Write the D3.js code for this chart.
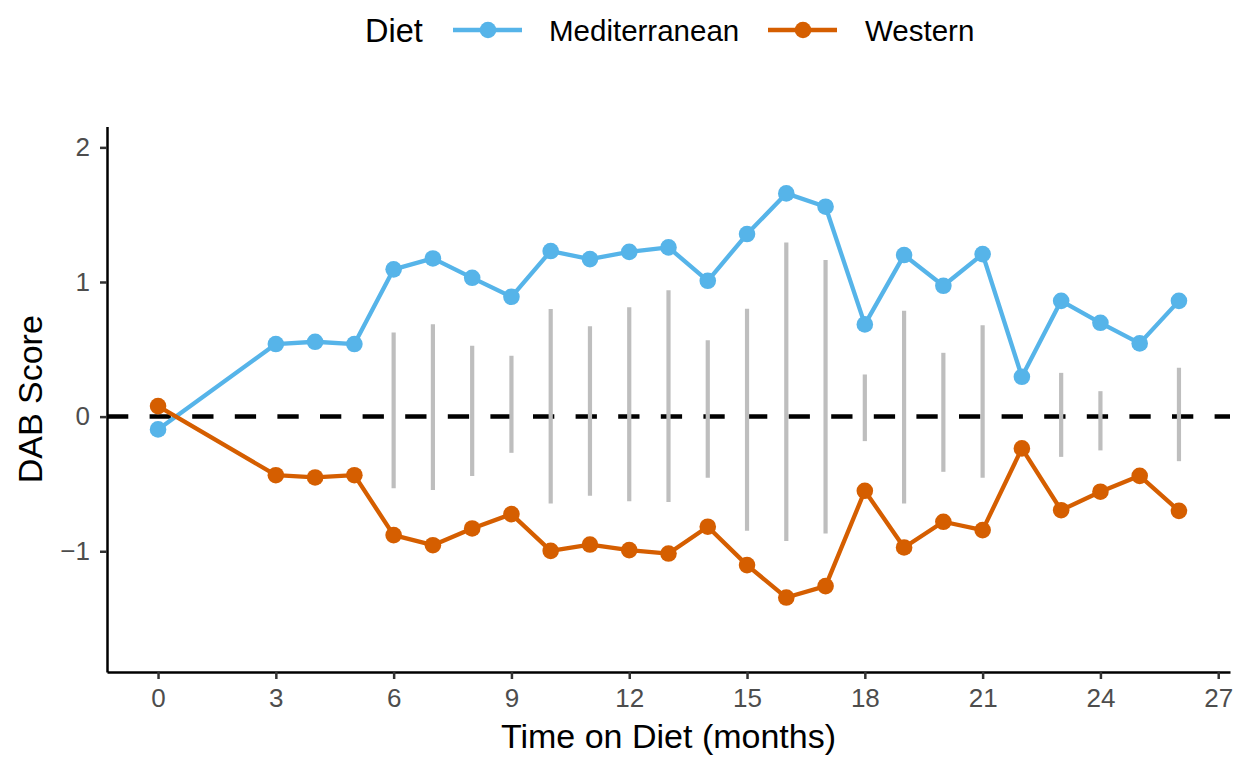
<!DOCTYPE html>
<html>
<head>
<meta charset="utf-8">
<script src="https://cdn.jsdelivr.net/npm/d3@7"></script>
<style>
  body { margin: 0; background: #fff; }
  text { font-family: "Liberation Sans", Arial, sans-serif; }
</style>
</head>
<body>
<svg id="chart" width="1239" height="757"></svg>
<script>
// months on diet
var months = [0, 3, 4, 5, 6, 7, 8, 9, 10, 11, 12, 13, 14, 15, 16, 17, 18, 19, 20, 21, 22, 23, 24, 25, 26];
var mediterranean = [-0.095, 0.539, 0.556, 0.539, 1.094, 1.175, 1.031, 0.890, 1.230, 1.170, 1.224, 1.257, 1.009,
                     1.356, 1.658, 1.559, 0.685, 1.200, 0.972, 1.207, 0.296, 0.860, 0.697, 0.544, 0.860];
var western = [0.078, -0.435, -0.452, -0.435, -0.880, -0.955, -0.831, -0.724, -0.997, -0.950, -0.992, -1.017, -0.818,
               -1.103, -1.344, -1.259, -0.551, -0.972, -0.781, -0.843, -0.236, -0.695, -0.558, -0.440, -0.700];
// grey range bars
var barMonths = [6, 7, 8, 9, 10, 11, 12, 13, 14, 15, 16, 17, 18, 19, 20, 21, 23, 24, 26];
var barHigh = [0.625, 0.687, 0.526, 0.452, 0.799, 0.672, 0.813, 0.938, 0.568, 0.801, 1.294, 1.163, 0.313, 0.786,
               0.474, 0.678, 0.325, 0.189, 0.363];
var barLow = [-0.533, -0.546, -0.442, -0.269, -0.645, -0.588, -0.628, -0.635, -0.455, -0.848, -0.923, -0.868,
              -0.182, -0.645, -0.410, -0.455, -0.299, -0.251, -0.331];
var xTicks = [0, 3, 6, 9, 12, 15, 18, 21, 24, 27];
var yTicks = [-1, 0, 1, 2];
var seriesNames = ["Mediterranean", "Western"];
var seriesColors = ["#56B4E9", "#D55E00"];

var svg = d3.select("#chart");
var mLeft = 107, mRight = 1230, mTop = 126.5, mBottom = 672;

var x = d3.scaleLinear().domain([-1.3, 27.3]).range([mLeft, mRight]);
var y = d3.scaleLinear().domain([-1.897, 2.155]).range([mBottom, mTop]);

// zero reference line
svg.append("line")
    .attr("x1", mLeft).attr("x2", mRight)
    .attr("y1", y(0)).attr("y2", y(0))
    .attr("stroke", "#000")
    .attr("stroke-width", 4.5)
    .attr("stroke-dasharray", "21.3,21.3");

// grey bars
svg.append("g")
    .selectAll("line")
    .data(barMonths)
    .enter().append("line")
    .attr("x1", d => x(d)).attr("x2", d => x(d))
    .attr("y1", (d, i) => y(barHigh[i]))
    .attr("y2", (d, i) => y(barLow[i]))
    .attr("stroke", "#BEBEBE")
    .attr("stroke-width", 4.2);

var series = [mediterranean, western];
var line = d3.line().x(d => x(d[0])).y(d => y(d[1]));

series.forEach(function(vals, s) {
    var pts = months.map((m, i) => [m, vals[i]]);
    svg.append("path")
        .datum(pts)
        .attr("d", line)
        .attr("fill", "none")
        .attr("stroke", seriesColors[s])
        .attr("stroke-width", 4.3)
        .attr("stroke-linejoin", "round");
    svg.append("g")
        .selectAll("circle")
        .data(pts)
        .enter().append("circle")
        .attr("cx", d => x(d[0]))
        .attr("cy", d => y(d[1]))
        .attr("r", 8.3)
        .attr("fill", seriesColors[s]);
});

// axes
var xAxis = svg.append("g")
    .attr("transform", "translate(0," + mBottom + ")")
    .call(d3.axisBottom(x).tickValues(xTicks).tickSize(7).tickPadding(10).tickSizeOuter(0));
var yAxis = svg.append("g")
    .attr("transform", "translate(" + mLeft + ",0)")
    .call(d3.axisLeft(y).tickValues(yTicks).tickSize(7).tickPadding(10).tickSizeOuter(0)
        .tickFormat(d => d < 0 ? "\u2212" + Math.abs(d) : d));

[xAxis, yAxis].forEach(function(a) {
    a.select(".domain").attr("stroke", "#000").attr("stroke-width", 2.5);
    a.selectAll(".tick line").attr("stroke", "#333").attr("stroke-width", 2.5);
    a.selectAll(".tick text")
        .attr("fill", "#4D4D4D")
        .attr("font-size", 26)
        .attr("font-family", "Liberation Sans, Arial, sans-serif");
});

svg.append("text")
    .attr("x", (mLeft + mRight) / 2)
    .attr("y", 748)
    .attr("text-anchor", "middle")
    .attr("font-size", 34)
    .text("Time on Diet (months)");

svg.append("text")
    .attr("transform", "translate(42," + (mTop + mBottom) / 2 + ")rotate(-90)")
    .attr("text-anchor", "middle")
    .attr("font-size", 34)
    .text("DAB Score");

// legend
var legend = svg.append("g");
legend.append("text")
    .attr("x", 365).attr("y", 42)
    .attr("font-size", 32.5)
    .text("Diet");
var keyX = [453, 768];
var labelX = [549, 865];
seriesNames.forEach(function(name, i) {
    legend.append("line")
        .attr("x1", keyX[i]).attr("x2", keyX[i] + 69)
        .attr("y1", 30).attr("y2", 30)
        .attr("stroke", seriesColors[i])
        .attr("stroke-width", 4.3);
    legend.append("circle")
        .attr("cx", keyX[i] + 35).attr("cy", 30).attr("r", 8.3)
        .attr("fill", seriesColors[i]);
    legend.append("text")
        .attr("x", labelX[i]).attr("y", 41)
        .attr("font-size", 29.5)
        .text(name);
});
</script>
</body>
</html>
